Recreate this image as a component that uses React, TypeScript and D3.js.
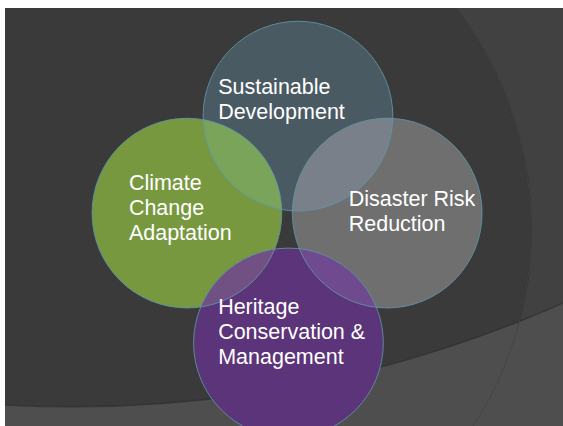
import * as d3 from "d3";

// four overlapping sets, laid out on a 10 x 7.5 in slide
const SETS = [
  "Sustainable Development",
  "Climate Change Adaptation",
  "Disaster Risk Reduction",
  "Heritage Conservation & Management",
];
const LABEL_LINES = [
  ["Sustainable", "Development"],
  ["Climate", "Change", "Adaptation"],
  ["Disaster Risk", "Reduction"],
  ["Heritage", "Conservation &", "Management"],
];
const CENTER_X = [5.25, 3.26, 6.85, 5.08];
const CENTER_Y = [1.94, 3.68, 3.68, 6.01];
const RADIUS = 1.7;
const LABEL_X = [3.82, 2.22, 6.16, 3.82];
const LABEL_Y = [1.54, 3.27, 3.56, 5.49];
const OVERLAPS: [number, number][] = [[0, 1], [0, 2], [1, 3], [2, 3]];

const FILLS = ["#4a5a63", "#77983f", "#6f6f6f", "#5c3479"];
const OVERLAP_FILLS = ["#79a45a", "#798089", "#715184", "#704a8e"];

const W = 563;
const H = 426;
const SLIDE = { x0: 5, y0: 8, x1: 563, y1: 426 };

export default function App() {
  const x = d3.scaleLinear().domain([0, 10]).range([SLIDE.x0, SLIDE.x0 + 558]);
  const y = d3.scaleLinear().domain([0, 7.5]).range([SLIDE.y0, SLIDE.y0 + 418]);
  const r = (v: number) => x(v) - x(0);

  // background swooshes of the slide theme
  const big = { cx: 2.96, cy: 3.98, r: 6.47 };
  const band = { cx: 1.22, cy: -14.52, r: 21.65 };
  const sw = SLIDE.x1 - SLIDE.x0;
  const sh = SLIDE.y1 - SLIDE.y0;

  const circlePath = (cx: number, cy: number, rr: number) => {
    const p = d3.path();
    p.moveTo(cx + rr, cy);
    p.arc(cx, cy, rr, 0, Math.PI * 2);
    p.closePath();
    return p.toString();
  };
  const slideRect = `M${SLIDE.x0},${SLIDE.y0}h${sw}v${sh}h${-sw}Z`;
  const bandPath = slideRect + circlePath(x(band.cx), y(band.cy), r(band.r));

  const font = "'Liberation Sans', Arial, sans-serif";

  return (
    <svg
      width={W}
      height={H}
      style={{ position: "absolute", left: 0, top: 0, background: "#fff" }}
    >
      <defs>
        <clipPath id="slide">
          <rect x={SLIDE.x0} y={SLIDE.y0} width={sw} height={sh} />
        </clipPath>
        {SETS.map((s, i) => (
          <clipPath id={`c${i}`} key={s}>
            <circle cx={x(CENTER_X[i])} cy={y(CENTER_Y[i])} r={r(RADIUS)} />
          </clipPath>
        ))}
      </defs>

      <g clipPath="url(#slide)">
        <rect x={SLIDE.x0} y={SLIDE.y0} width={sw} height={sh} fill="#414141" />
        <circle
          cx={x(big.cx)}
          cy={y(big.cy)}
          r={r(big.r)}
          fill="#3a3a3a"
          stroke="#2e2e2e"
          strokeWidth={1.5}
        />
        <path d={bandPath} fillRule="evenodd" fill="#4e4e4e" />
        <circle
          cx={x(band.cx)}
          cy={y(band.cy)}
          r={r(band.r)}
          fill="none"
          stroke="#2f2f2f"
          strokeOpacity={0.7}
          strokeWidth={1.5}
        />
        <circle
          cx={x(big.cx)}
          cy={y(big.cy)}
          r={r(big.r)}
          fill="none"
          stroke="#444"
          strokeWidth={1}
          clipPath="url(#slide)"
        />
      </g>

      <g clipPath="url(#slide)">
        {SETS.map((s, i) => (
          <circle
            key={s}
            cx={x(CENTER_X[i])}
            cy={y(CENTER_Y[i])}
            r={r(RADIUS)}
            fill={FILLS[i]}
          />
        ))}
        {OVERLAPS.map(([a, b], k) => (
          <g key={k} clipPath={`url(#c${a})`}>
            <circle
              cx={x(CENTER_X[b])}
              cy={y(CENTER_Y[b])}
              r={r(RADIUS)}
              fill={OVERLAP_FILLS[k]}
            />
          </g>
        ))}
        {SETS.map((s, i) => (
          <circle
            key={s + "-edge"}
            cx={x(CENTER_X[i])}
            cy={y(CENTER_Y[i])}
            r={r(RADIUS)}
            fill="none"
            stroke="#5f96a6"
            strokeOpacity={0.85}
            strokeWidth={1}
          />
        ))}
      </g>

      {LABEL_LINES.map((lines, i) => (
        <text
          key={SETS[i]}
          x={x(LABEL_X[i])}
          y={y(LABEL_Y[i])}
          fill="#fff"
          fontFamily={font}
          fontSize={21.5}
        >
          {lines.map((line, j) => (
            <tspan key={j} x={x(LABEL_X[i])} dy={j === 0 ? 0 : 25}>
              {line}
            </tspan>
          ))}
        </text>
      ))}
    </svg>
  );
}
